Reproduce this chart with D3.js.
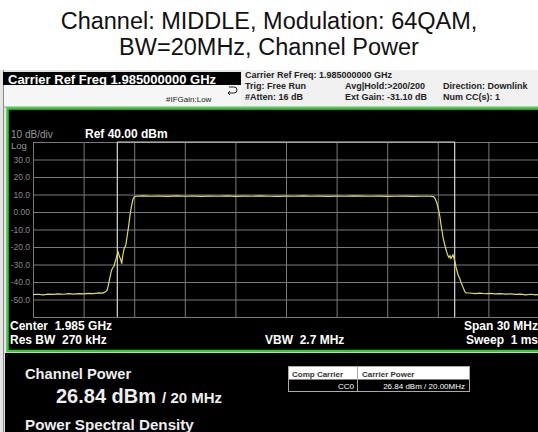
<!DOCTYPE html>
<html>
<head>
<meta charset="utf-8">
<script src="https://cdn.jsdelivr.net/npm/d3@7"></script>
<style>
  body { margin: 0; background: #fff; }
  text { font-family: "Liberation Sans", Arial, sans-serif; white-space: pre; }
</style>
</head>
<body>
<script>
// spectrum trace (offset from center in MHz, level in dBm)
var freqMHz = [
  -15.0, -14.7, -14.4, -14.1, -13.8, -13.5, -13.2, -12.9, -12.6, -12.3, -12.0, -11.7, -11.4, -11.1, -10.85, -10.7,
  -10.6, -10.55, -10.45, -10.35, -10.28, -10.2, -10.1, -10.0, -9.95, -9.88, -9.8, -9.74, -9.68, -9.6, -9.5, -9.42,
  -9.33, -9.25, -9.17, -9.08, -9.0, -8.9,
  -8.5, -8.0, -7.5, -7.0, -6.5, -6.0, -5.5, -5.0, -4.5, -4.0, -3.5, -3.0, -2.5, -2.0, -1.5, -1.0, -0.5,
  0.0, 0.5, 1.0, 1.5, 2.0, 2.5, 3.0, 3.5, 4.0, 4.5, 5.0, 5.5, 6.0, 6.5, 7.0, 7.5, 8.0, 8.5, 8.75,
  8.85, 8.95, 9.05, 9.13, 9.2, 9.27, 9.33, 9.42, 9.5, 9.58, 9.66, 9.72, 9.78, 9.84, 9.9, 9.96, 10.02, 10.08,
  10.15, 10.22, 10.3, 10.37, 10.45, 10.52, 10.6, 10.68,
  10.9, 11.2, 11.5, 11.8, 12.1, 12.4, 12.7, 13.0, 13.3, 13.6, 13.9, 14.2, 14.5, 14.8, 15.0
];
var powerDbm = [
  -47.2, -47.0, -47.3, -46.9, -47.1, -46.8, -47.0, -46.7, -46.9, -46.6, -46.8, -46.5, -46.6, -46.2, -46.3, -45.6,
  -44.5, -42.5, -38.0, -33.5, -32.0, -31.0, -27.5, -24.0, -23.0, -25.5, -27.0, -29.5, -25.0, -21.0, -19.0, -14.0,
  -8.0, -2.0, 3.0, 7.0, 8.6, 9.0,
  9.2, 9.0, 9.1, 8.9, 9.2, 9.0, 9.1, 8.9, 9.1, 9.0, 9.2, 8.9, 9.1, 9.0, 9.2, 9.0, 8.9,
  9.1, 9.0, 9.2, 9.0, 9.1, 8.9, 9.1, 9.0, 9.2, 9.1, 9.0, 9.1, 8.9, 9.0, 9.1, 8.9, 9.0, 9.0, 8.8,
  7.5, 5.0, 1.0, -3.0, -8.0, -12.0, -15.5, -19.0, -22.0, -24.5, -26.0, -25.0, -26.5, -25.5, -24.5, -26.5, -28.5, -31.5,
  -34.0, -36.5, -38.0, -40.0, -42.0, -43.5, -45.5, -46.2,
  -46.3, -46.6, -46.4, -46.7, -46.5, -46.8, -46.6, -46.9, -46.8, -47.1, -46.9, -47.3, -47.0, -47.4, -47.2
];
var yTicks = [-60, -50, -40, -30, -20, -10, 0, 10, 20, 30, 40];
var yTickLabels = ["", "-50.0", "-40.0", "-30.0", "-20.0", "-10.0", "0.00", "10.0", "20.0", "30.0", ""];
var xTicks = [-15, -12, -9, -6, -3, 0, 3, 6, 9, 12, 15];
var channelEdges = [-10, 10];

var titleLines = ["Channel: MIDDLE, Modulation: 64QAM,", "BW=20MHz, Channel Power"];

var svg = d3.select("body").append("svg")
            .attr("width", 538)
            .attr("height", 432);

svg.append("rect").attr("width", 538).attr("height", 432).attr("fill", "#fff");

// title
svg.selectAll(".title")
   .data(titleLines)
   .enter()
   .append("text")
   .attr("x", 269)
   .attr("y", function(d, i) { return 29 + i * 26; })
   .attr("text-anchor", "middle")
   .attr("font-size", 23.5)
   .attr("fill", "#111")
   .text(function(d) { return d; });

// screen frame
svg.append("rect").attr("x", 0).attr("y", 70).attr("width", 538).attr("height", 362).attr("fill", "#e4e4e4");
svg.append("line").attr("x1", 3.5).attr("x2", 3.5).attr("y1", 70).attr("y2", 432).attr("stroke", "#888");

// header, left part
svg.append("rect").attr("x", 3).attr("y", 72).attr("width", 238).attr("height", 13).attr("fill", "#000");
svg.append("text").attr("x", 8).attr("y", 83.5).attr("font-size", 13).attr("font-weight", "bold")
   .attr("fill", "#fff").text("Carrier Ref Freq 1.985000000 GHz");
svg.append("rect").attr("x", 4).attr("y", 85).attr("width", 237).attr("height", 22).attr("fill", "#f6f6f6");
svg.append("text").attr("x", 166).attr("y", 102).attr("font-size", 8).attr("fill", "#222").text("#IFGain:Low");
svg.append("path")
   .attr("d", "M229,87 h5 a3,3 0 0 1 0,6 h-6 M230,91 l-2,2 l2,2")
   .attr("fill", "none").attr("stroke", "#222").attr("stroke-width", 1);

// header, right part
var hdr = svg.append("g");
hdr.append("rect").attr("x", 241).attr("y", 70).attr("width", 297).attr("height", 37).attr("fill", "#f0f0f0");
var hdrText = [
  ["Carrier Ref Freq: 1.985000000 GHz", 245, 78],
  ["Trig: Free Run", 245, 89],
  ["#Atten: 16 dB", 245, 100],
  ["Avg|Hold:>200/200", 345, 89],
  ["Ext Gain: -31.10 dB", 345, 100],
  ["Direction: Downlink", 443, 89],
  ["Num CC(s): 1", 443, 100]
];
hdr.selectAll("text").data(hdrText).enter().append("text")
   .attr("x", function(d) { return d[1]; })
   .attr("y", function(d) { return d[2]; })
   .attr("font-size", 9).attr("font-weight", "bold").attr("fill", "#222")
   .text(function(d) { return d[0]; });
svg.append("line").attr("x1", 3).attr("x2", 538).attr("y1", 107).attr("y2", 107).attr("stroke", "#999");

// green measurement window
svg.append("rect").attr("x", 7.5).attr("y", 108.5).attr("width", 540).attr("height", 242.5)
   .attr("fill", "#000").attr("stroke", "#33cc33").attr("stroke-width", 2.5);

// lower results panel
svg.append("rect").attr("x", 5).attr("y", 353).attr("width", 533).attr("height", 79).attr("fill", "#000");

var x = d3.scaleLinear().domain([-15, 15]).range([33, 539]);
var y = d3.scaleLinear().domain([-60, 40]).range([317, 142]);

var yAxis = d3.axisLeft(y)
              .tickValues(yTicks)
              .tickSize(-(539 - 33))
              .tickPadding(3)
              .tickFormat(function(d, i) { return yTickLabels[i]; });
var gy = svg.append("g").attr("transform", "translate(33,0)").call(yAxis);
gy.select(".domain").remove();
gy.selectAll("line").attr("stroke", "#7a7a7a");
gy.selectAll("text").attr("fill", "#8a8a8a").attr("font-size", 8.5).attr("dy", "0.3em");

var xAxis = d3.axisBottom(x).tickValues(xTicks).tickSize(-(317 - 142)).tickFormat("");
var gx = svg.append("g").attr("transform", "translate(0,317)").call(xAxis);
gx.select(".domain").remove();
gx.selectAll("line").attr("stroke", "#7a7a7a");

// channel integration markers
svg.append("line").attr("x1", x(channelEdges[0])).attr("x2", x(channelEdges[1]))
   .attr("y1", y(40)).attr("y2", y(40)).attr("stroke", "#cfcfcf").attr("stroke-width", 1.2);
svg.selectAll(".edge").data(channelEdges).enter().append("line")
   .attr("x1", function(d) { return x(d); })
   .attr("x2", function(d) { return x(d); })
   .attr("y1", y(40)).attr("y2", y(-60))
   .attr("stroke", "#d8d8d8").attr("stroke-width", 1.2);

// trace
var line = d3.line()
             .x(function(d, i) { return x(freqMHz[i]); })
             .y(function(d) { return y(d); });
svg.append("path").datum(powerDbm)
   .attr("d", line)
   .attr("fill", "none")
   .attr("stroke", "#dede5a")
   .attr("stroke-width", 1.2);

// screen labels
svg.append("text").attr("x", 11).attr("y", 138).attr("font-size", 10).attr("fill", "#999").text("10 dB/div");
svg.append("text").attr("x", 11).attr("y", 149).attr("font-size", 9.5).attr("fill", "#999").text("Log");
svg.append("text").attr("x", 85).attr("y", 138).attr("font-size", 12).attr("font-weight", "bold")
   .attr("fill", "#fff").text("Ref 40.00 dBm");

var foot = [
  ["Center  1.985 GHz", 10, 330, "start"],
  ["Res BW  270 kHz", 10, 344, "start"],
  ["VBW  2.7 MHz", 265, 344, "start"],
  ["Span 30 MHz", 538, 330, "end"],
  ["Sweep  1 ms", 538, 344, "end"]
];
svg.selectAll(".foot").data(foot).enter().append("text")
   .attr("x", function(d) { return d[1]; })
   .attr("y", function(d) { return d[2]; })
   .attr("text-anchor", function(d) { return d[3]; })
   .attr("font-size", 12).attr("font-weight", "bold").attr("fill", "#fff")
   .text(function(d) { return d[0]; });

// results
svg.append("text").attr("x", 25).attr("y", 379).attr("font-size", 14.7).attr("font-weight", "bold")
   .attr("fill", "#eee").text("Channel Power");
var cp = svg.append("text").attr("x", 56).attr("y", 403).attr("font-weight", "bold").attr("fill", "#eee");
cp.append("tspan").attr("font-size", 20).text("26.84 dBm");
cp.append("tspan").attr("font-size", 15).attr("dx", 6).text("/ 20 MHz");
svg.append("text").attr("x", 25).attr("y", 430).attr("font-size", 15.2).attr("font-weight", "bold")
   .attr("fill", "#eee").text("Power Spectral Density");

// carrier table
svg.append("rect").attr("x", 288.5).attr("y", 366.5).attr("width", 181).attr("height", 13).attr("fill", "#fff");
svg.append("rect").attr("x", 288.5).attr("y", 366.5).attr("width", 181).attr("height", 25)
   .attr("fill", "none").attr("stroke", "#aaa");
svg.append("line").attr("x1", 357.5).attr("x2", 357.5).attr("y1", 366.5).attr("y2", 391.5).attr("stroke", "#aaa");
svg.append("text").attr("x", 292).attr("y", 376.5).attr("font-size", 8).attr("font-weight", "bold").attr("fill", "#333").text("Comp Carrier");
svg.append("text").attr("x", 362).attr("y", 376.5).attr("font-size", 8).attr("font-weight", "bold").attr("fill", "#333").text("Carrier Power");
svg.append("text").attr("x", 354).attr("y", 388.5).attr("text-anchor", "end").attr("font-size", 8).attr("fill", "#fff").text("CC0");
svg.append("text").attr("x", 465).attr("y", 388.5).attr("text-anchor", "end").attr("font-size", 8).attr("fill", "#fff").text("26.84 dBm / 20.00MHz");
</script>
</body>
</html>
